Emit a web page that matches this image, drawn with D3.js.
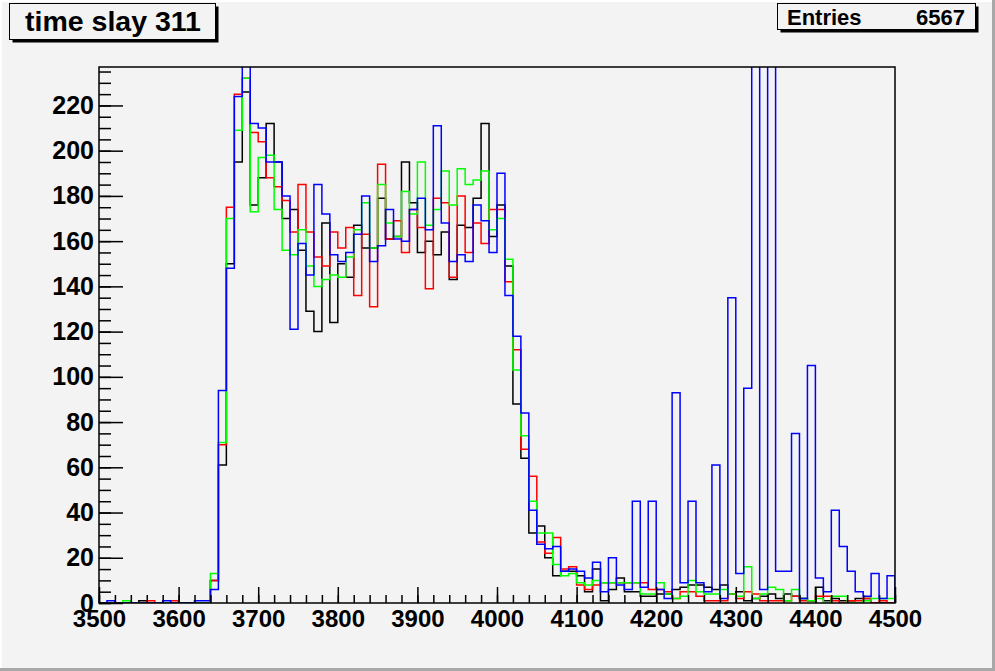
<!DOCTYPE html>
<html><head><meta charset="utf-8">
<script src="https://cdn.jsdelivr.net/npm/d3@7"></script>
<style>html,body{margin:0;padding:0;background:#f3f3f3}svg{display:block}</style>
</head><body>
<script>
const title = "time slay 311";
const entriesLabel = "Entries";
const entriesValue = "6567";
const xMin = 3500, xMax = 4500, binWidth = 10;
const yMax = 237;
const xTicks = [3500,3600,3700,3800,3900,4000,4100,4200,4300,4400,4500];
const yTicks = [0,20,40,60,80,100,120,140,160,180,200,220];

const black = [0,0,0,0,0,1,0,0,0,0, 0,0,0,0,10,61,150,195,226,176,
 188,212,195,170,174,156,129,120,168,124, 150,144,167,157,157,179,161,162,195,177,
 155,160,154,164,143,167,166,179,212,162, 176,149,88,64,31,34,20,12,14,14,
 12,5,15,1,6,11,5,5,3,3, 4,4,6,7,8,8,7,6,8,4,
 5,1,2,3,4,2,4,3,2,1, 7,1,2,1,1,2,2,0,0,0];
const red = [0,0,0,0,0,0,1,0,0,1, 0,0,0,0,10,70,175,225,232,208,
 204,188,184,178,164,185,164,153,149,164, 157,166,136,163,131,194,161,169,155,174,
 166,139,179,177,144,180,155,168,159,174, 174,142,112,68,56,27,22,29,15,16,
 8,6,8,9,9,9,9,9,9,6, 6,5,2,5,5,3,1,1,1,4,
 2,5,4,1,1,1,1,3,1,1, 3,3,1,0,1,1,2,0,1,0];
const green = [0,0,0,1,0,0,0,0,0,0, 0,0,0,0,13,71,170,209,232,173,
 197,198,174,156,154,165,149,140,143,145, 144,153,165,177,157,185,168,162,182,172,
 195,167,174,191,176,192,185,187,191,165, 170,152,103,74,45,31,31,17,12,13,
 9,8,10,9,9,9,9,9,4,4, 9,4,2,3,10,5,4,4,6,4,
 3,16,2,4,7,6,1,6,2,1, 2,0,3,3,0,0,1,2,2,2];
const blue = [0,1,0,0,0,0,0,0,1,0, 0,0,1,1,6,94,148,224,300,212,
 210,195,195,180,121,159,145,185,172,154, 151,155,163,180,151,158,174,161,160,174,
 179,165,211,168,151,154,151,176,169,155, 190,136,118,84,41,26,24,25,14,15,
 14,11,18,5,20,8,6,45,7,45, 6,2,93,9,45,9,5,61,2,135,
 13,95,400,6,400,14,14,75,2,105, 11,5,41,25,14,5,3,13,2,12];

const series = [
  {name:"black", values:black, color:"#000000"},
  {name:"red", values:red, color:"#ff0000"},
  {name:"green", values:green, color:"#00ff00"},
  {name:"blue", values:blue, color:"#0000ff"}
];

const W = 995, H = 671;
const fx0 = 99, fx1 = 895, fy0 = 67, fy1 = 603;
const svg = d3.select("body").append("svg").attr("width", W).attr("height", H);
const font = "'Liberation Sans', Arial, Helvetica, sans-serif";

// canvas
svg.append("rect").attr("x",0).attr("y",0).attr("width",W).attr("height",H).attr("fill","#f3f3f3");
svg.append("rect").attr("x",0).attr("y",0).attr("width",W).attr("height",2).attr("fill","#ffffff");
svg.append("rect").attr("x",0).attr("y",0).attr("width",2).attr("height",H).attr("fill","#ffffff");
svg.append("rect").attr("x",0).attr("y",H-3).attr("width",W).attr("height",3).attr("fill","#a8a8a8");
svg.append("rect").attr("x",W-3).attr("y",0).attr("width",3).attr("height",H).attr("fill","#a8a8a8");

const x = d3.scaleLinear().domain([xMin, xMax]).range([fx0, fx1]);
const y = d3.scaleLinear().domain([0, yMax]).range([fy1, fy0]);

svg.append("defs").append("clipPath").attr("id","frameclip")
  .append("rect").attr("x",fx0).attr("y",fy0).attr("width",fx1-fx0).attr("height",fy1-fy0);

const g = svg.append("g").attr("clip-path","url(#frameclip)");
const line = d3.line().x(d=>x(d[0])).y(d=>y(d[1]));
series.forEach(s => {
  const pts = [[xMin, 0]];
  s.values.forEach((v,i) => {
    const e0 = xMin + i*binWidth, e1 = e0 + binWidth;
    pts.push([e0, v]); pts.push([e1, v]);
  });
  pts.push([xMax, 0]);
  g.append("path").attr("d", line(pts)).attr("fill","none")
    .attr("stroke", s.color).attr("stroke-width", 1.5);
});

// frame
svg.append("rect").attr("x",fx0).attr("y",fy0).attr("width",fx1-fx0).attr("height",fy1-fy0)
  .attr("fill","none").attr("stroke","#000").attr("stroke-width",1.5);

// x ticks (pointing up, inside)
const xMinor = d3.range(xMin, xMax+1, 20);
svg.append("g").attr("transform",`translate(0,${fy1})`)
  .call(d3.axisTop(x).tickValues(xMinor).tickSize(8).tickFormat(""))
  .call(a=>{a.select(".domain").remove(); a.selectAll("line").attr("stroke","#000").attr("stroke-width",1.5);});
svg.append("g").attr("transform",`translate(0,${fy1})`)
  .call(d3.axisTop(x).tickValues(xTicks).tickSize(16).tickFormat(""))
  .call(a=>{a.select(".domain").remove(); a.selectAll("line").attr("stroke","#000").attr("stroke-width",1.5);});
// x labels
svg.append("g").attr("transform",`translate(0,${fy1})`)
  .call(d3.axisBottom(x).tickValues(xTicks).tickSize(0).tickPadding(7).tickFormat(d3.format("d")))
  .call(a=>{a.select(".domain").remove();
    a.selectAll("text").attr("fill","#000").attr("font-family",font).attr("font-weight","bold").attr("font-size","24px");});

// y ticks (pointing right, inside)
const yMinor = d3.range(0, yMax, 5);
svg.append("g").attr("transform",`translate(${fx0},0)`)
  .call(d3.axisRight(y).tickValues(yMinor).tickSize(12).tickFormat(""))
  .call(a=>{a.select(".domain").remove(); a.selectAll("line").attr("stroke","#000").attr("stroke-width",1.5);});
svg.append("g").attr("transform",`translate(${fx0},0)`)
  .call(d3.axisRight(y).tickValues(yTicks).tickSize(24).tickFormat(""))
  .call(a=>{a.select(".domain").remove(); a.selectAll("line").attr("stroke","#000").attr("stroke-width",1.5);});
// y labels
svg.append("g").attr("transform",`translate(${fx0},0)`)
  .call(d3.axisLeft(y).tickValues(yTicks).tickSize(0).tickPadding(5).tickFormat(d3.format("d")))
  .call(a=>{a.select(".domain").remove();
    a.selectAll("text").attr("fill","#000").attr("font-family",font).attr("font-weight","bold").attr("font-size","25px");});

// title box
function pave(x0,y0,w,h){
  svg.append("rect").attr("x",x0+3).attr("y",y0+3).attr("width",w).attr("height",h).attr("fill","#000");
  svg.append("rect").attr("x",x0).attr("y",y0).attr("width",w).attr("height",h)
    .attr("fill","#f3f3f3").attr("stroke","#000").attr("stroke-width",1);
}
pave(9.5,3.5,206,36);
svg.append("text").attr("x",113).attr("y",31).attr("text-anchor","middle")
  .attr("font-family",font).attr("font-weight","bold").attr("font-size","28.5px").text(title);

pave(777.5,3.5,198,26);
svg.append("text").attr("x",787).attr("y",25).attr("font-family",font).attr("font-weight","bold")
  .attr("font-size","22px").text(entriesLabel);
svg.append("text").attr("x",965).attr("y",25).attr("text-anchor","end").attr("font-family",font).attr("font-weight","bold")
  .attr("font-size","22px").text(entriesValue);
</script>
</body></html>
